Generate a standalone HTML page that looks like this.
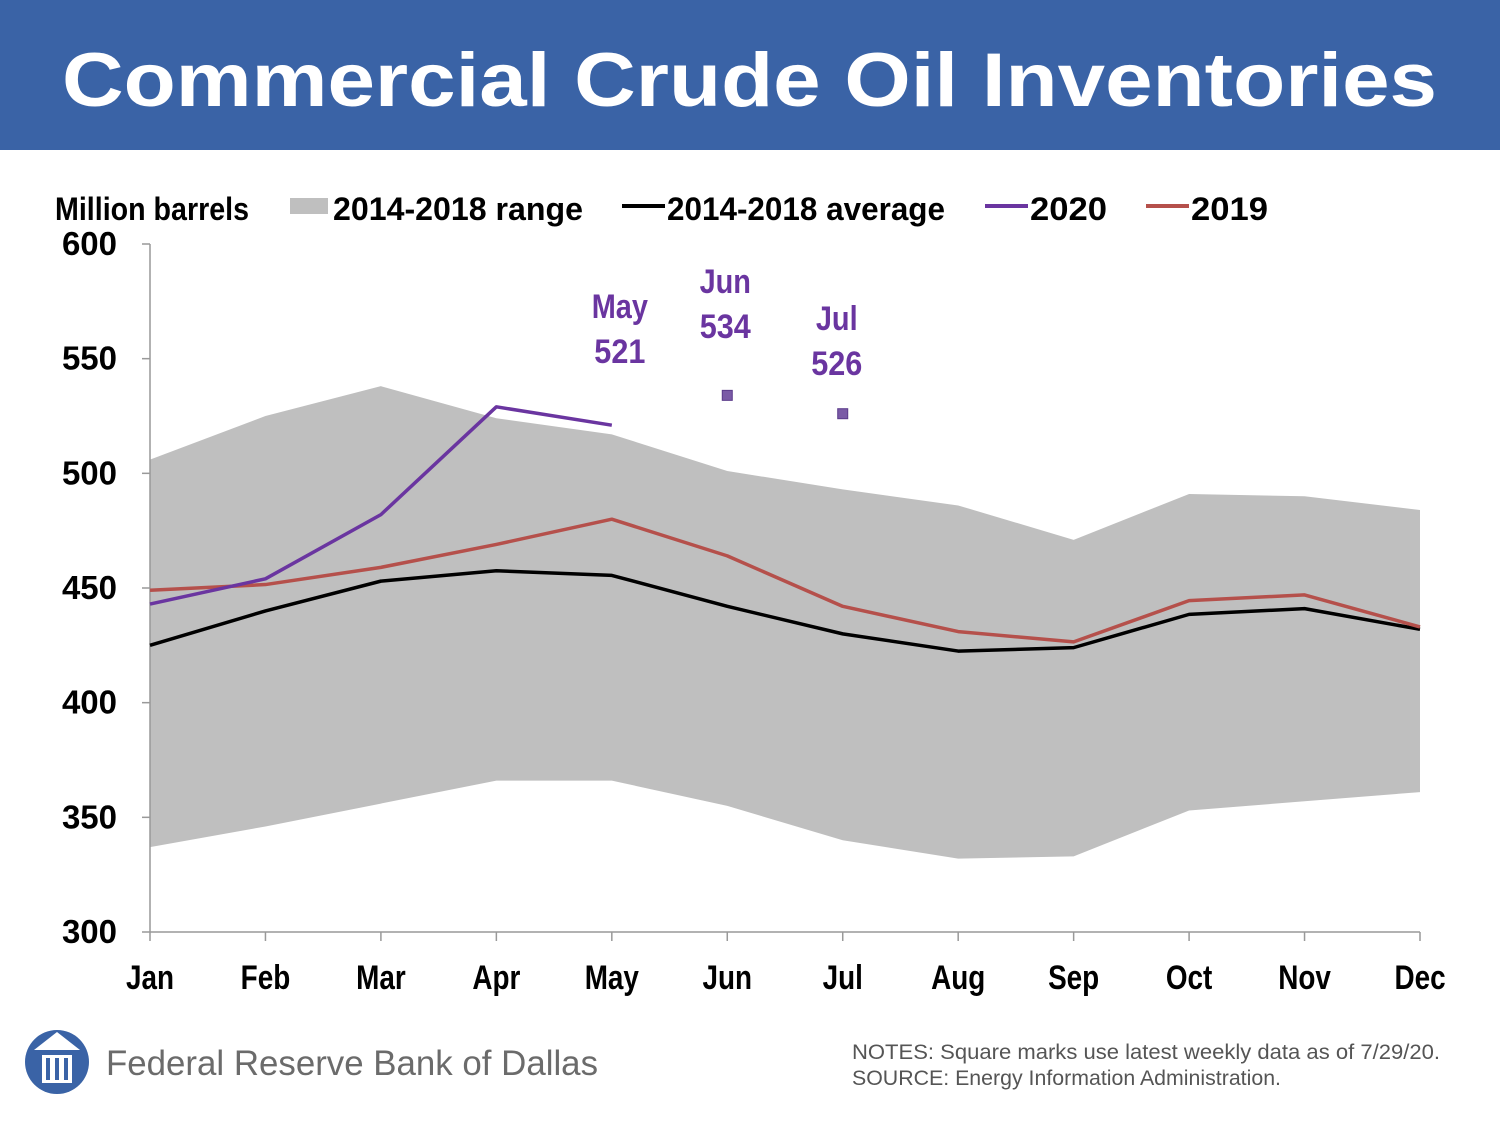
<!DOCTYPE html>
<html><head><meta charset="utf-8"><style>
html,body{margin:0;padding:0;background:#fff;}
svg{display:block;}
.b{font-family:"Liberation Sans Narrow","Liberation Sans",sans-serif;font-weight:bold;}
</style></head><body>
<svg id="c" width="1500" height="1125" viewBox="0 0 1500 1125" xmlns="http://www.w3.org/2000/svg">
<rect x="0" y="0" width="1500" height="150" fill="#3a63a6"/>
<text x="62" y="106" fill="#fff" font-family="Liberation Sans, sans-serif" font-weight="bold" font-size="76" textLength="1375" lengthAdjust="spacingAndGlyphs">Commercial Crude Oil Inventories</text>
<text class="b" x="55" y="220" font-size="32" textLength="194" lengthAdjust="spacingAndGlyphs">Million barrels</text>
<g>
<rect x="290" y="198" width="38" height="16" fill="#bfbfbf"/>
<text class="b" x="333" y="220" font-size="32" textLength="250" lengthAdjust="spacingAndGlyphs">2014-2018 range</text>
<line x1="622" y1="206" x2="665" y2="206" stroke="#000" stroke-width="4"/>
<text class="b" x="667" y="220" font-size="32" textLength="278" lengthAdjust="spacingAndGlyphs">2014-2018 average</text>
<line x1="985" y1="206" x2="1028" y2="206" stroke="#6a35a0" stroke-width="4"/>
<text class="b" x="1030" y="220" font-size="32" textLength="77" lengthAdjust="spacingAndGlyphs">2020</text>
<line x1="1146" y1="206" x2="1189" y2="206" stroke="#b5504b" stroke-width="4"/>
<text class="b" x="1191" y="220" font-size="32" textLength="77" lengthAdjust="spacingAndGlyphs">2019</text>
</g>
<g id="plot"></g>
<g>
<circle cx="57" cy="1062" r="32" fill="#3a63a6"/>
<path d="M34 1050 L80 1050 L57 1032 Z" fill="#fff"/>
<rect x="42" y="1055" width="30" height="28" fill="#fff"/>
<rect x="46" y="1058" width="4" height="22" fill="#3a63a6"/><rect x="55" y="1058" width="4" height="22" fill="#3a63a6"/><rect x="64" y="1058" width="4" height="22" fill="#3a63a6"/>
</g>
<text x="106" y="1075" font-family="Liberation Sans, sans-serif" font-size="35" fill="#6b6b6b" textLength="492" lengthAdjust="spacingAndGlyphs">Federal Reserve Bank of Dallas</text>
<text x="852" y="1059" font-family="Liberation Sans, sans-serif" font-size="21" fill="#555" textLength="588" lengthAdjust="spacingAndGlyphs">NOTES: Square marks use latest weekly data as of 7/29/20.</text>
<text x="852" y="1085" font-family="Liberation Sans, sans-serif" font-size="21" fill="#555" textLength="429" lengthAdjust="spacingAndGlyphs">SOURCE: Energy Information Administration.</text>
</svg>
<script>
const months=["Jan","Feb","Mar","Apr","May","Jun","Jul","Aug","Sep","Oct","Nov","Dec"];
const rangeHigh=[506,525,538,524,517,501,493,486,471,491,490,484];
const rangeLow=[337,346,356,366,366,355,340,332,333,353,357,361];
const avg=[425,440,453,457.5,455.5,442,430,422.5,424,438.5,441,432];
const y2019=[449,451.5,459,469,480,464,442,431,426.5,444.5,447,433];
const y2020=[443,454,482,529,521];
const weeklyMonths=[5,6];
const weeklyVals=[534,526];
const yTicks=[300,350,400,450,500,550,600];
const NS="http://www.w3.org/2000/svg";
const X=i=>150+i*(1420-150)/11;
const Y=v=>932-(v-300)*(932-244)/300;
const g=document.getElementById('plot');
function mk(t,a){const e=document.createElementNS(NS,t);for(const k in a)e.setAttribute(k,a[k]);g.appendChild(e);return e;}
let pts=rangeHigh.map((v,i)=>X(i)+','+Y(v)).concat(rangeLow.map((v,i)=>[X(i),Y(v)]).reverse().map(p=>p.join(','))).join(' ');
let band=mk('polygon',{points:pts,fill:'#bfbfbf'});


let ya=mk('line',{x1:150,y1:244,x2:150,y2:932,stroke:'#999','stroke-width':1.5});


let xa=mk('line',{x1:150,y1:932,x2:1420,y2:932,stroke:'#999','stroke-width':1.5});


yTicks.forEach(t=>{
 let tk=mk('line',{x1:142,y1:Y(t),x2:150,y2:Y(t),stroke:'#999','stroke-width':1.5});
 
 
 let l=mk('text',{x:117,y:Y(t)+11,'text-anchor':'end','font-size':33,class:'b'});l.textContent=t;
 
 
});
months.forEach((m,i)=>{
 let tk=mk('line',{x1:X(i),y1:932,x2:X(i),y2:941,stroke:'#999','stroke-width':1.5});
 
 
 let l=mk('text',{transform:'translate('+X(i)+',989) scale(0.82,1)','text-anchor':'middle','font-size':34,class:'b'});l.textContent=m;
 
 
});
function line(arr,col,name){
 let p=mk('polyline',{points:arr.map((v,i)=>X(i)+','+Y(v)).join(' '),fill:'none',stroke:col,'stroke-width':3.5,'stroke-linejoin':'round'});
 
 
}
line(avg,'#000','average-line');
line(y2019,'#b5504b','line-2019');
line(y2020,'#6a35a0','line-2020');
weeklyMonths.forEach((mi,k)=>{
 let s=mk('rect',{x:X(mi)-5,y:Y(weeklyVals[k])-5,width:10,height:10,fill:'#7a5aa6',stroke:'#5a3a8a','stroke-width':1});
 
 
});
const ann=[[4,521,290,8],[5,534,265,-2],[6,526,302,-6]];
ann.forEach(a=>{
 let cx=X(a[0])+a[3];
 let t1=mk('text',{transform:'translate('+cx+','+(a[2]+28)+') scale(0.85,1)','text-anchor':'middle','font-size':34,fill:'#6a35a0',class:'b'});t1.textContent=months[a[0]];
 
 
 let t2=mk('text',{transform:'translate('+cx+','+(a[2]+73)+') scale(0.9,1)','text-anchor':'middle','font-size':34,fill:'#6a35a0',class:'b'});t2.textContent=a[1];
 
 
});
</script>
</body></html>
